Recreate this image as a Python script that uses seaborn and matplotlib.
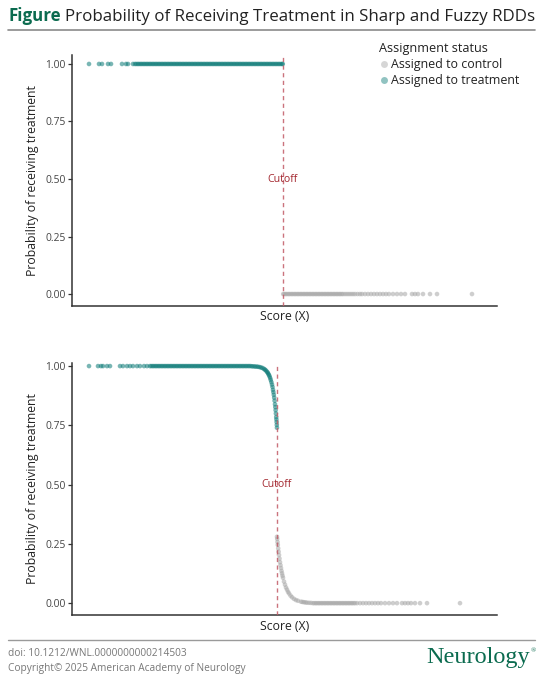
import matplotlib
matplotlib.use('Agg')
import matplotlib.pyplot as plt
import seaborn as sns
import pandas as pd
from matplotlib.lines import Line2D

# ---------------- data (score in arbitrary units, cutoff = 0) ----------------
CUTOFF = 0.0
status_labels = ['Assigned to control', 'Assigned to treatment']
y_ticks = [0.00, 0.25, 0.50, 0.75, 1.00]

# Sharp RDD: scores of treated units (probability 1) and control units (probability 0)
sharp_treated_x = [-19.4, -18.4, -18.1, -17.5, -17.2, -16.1, -15.7, -15.5, -15.0,
                   -14.8, -14.65, -14.5, -14.35, -14.2, -14.05, -13.9, -13.75, -13.6, -13.45, -13.3,
                   -13.15, -13.0, -12.85, -12.7, -12.55, -12.4, -12.25, -12.1, -11.95, -11.8, -11.65,
                   -11.5, -11.35, -11.2, -11.05, -10.9, -10.75, -10.6, -10.45, -10.3, -10.15, -10.0,
                   -9.85, -9.7, -9.55, -9.4, -9.25, -9.1, -8.95, -8.8, -8.65, -8.5, -8.35, -8.2, -8.05,
                   -7.9, -7.75, -7.6, -7.45, -7.3, -7.15, -7.0, -6.85, -6.7, -6.55, -6.4, -6.25, -6.1,
                   -5.95, -5.8, -5.65, -5.5, -5.35, -5.2, -5.05, -4.9, -4.75, -4.6, -4.45, -4.3, -4.15,
                   -4.0, -3.85, -3.7, -3.55, -3.4, -3.25, -3.1, -2.95, -2.8, -2.65, -2.5, -2.35, -2.2,
                   -2.05, -1.9, -1.75, -1.6, -1.45, -1.3, -1.15, -1.0, -0.85, -0.7, -0.55, -0.4, -0.25,
                   -0.1, -0.02]
sharp_control_x = [0.02, 0.15, 0.3, 0.45, 0.6, 0.75, 0.9, 1.05, 1.2, 1.35, 1.5, 1.65, 1.8, 1.95, 2.1,
                   2.25, 2.4, 2.55, 2.7, 2.85, 3.0, 3.15, 3.3, 3.45, 3.6, 3.75, 3.9, 4.05, 4.2, 4.35,
                   4.5, 4.65, 4.8, 4.95, 5.1, 5.25, 5.4, 5.55, 5.7, 5.85, 6.0, 6.2, 6.4, 6.6, 6.8, 7.0,
                   7.2, 7.45, 7.7, 7.9, 8.2, 8.5, 8.8, 9.1, 9.4, 9.7, 10.0, 10.3, 10.6, 11.0, 11.4,
                   11.8, 12.2, 12.9, 13.2, 13.5, 14.0, 14.7, 15.4, 18.9]

# Fuzzy RDD: treated side (flat part reads 1.00, then the bend down to the cutoff)
fuzzy_treated_flat_x = [-18.8, -17.9, -17.6, -17.4, -17.0, -16.7, -15.7, -15.4, -15.0, -14.7, -14.4,
                        -14.0, -13.7, -13.3, -13.0,
                        -12.7, -12.55, -12.4, -12.25, -12.1, -11.95, -11.8, -11.65, -11.5, -11.35,
                        -11.2, -11.05, -10.9, -10.75, -10.6, -10.45, -10.3, -10.15, -10.0, -9.85, -9.7,
                        -9.55, -9.4, -9.25, -9.1, -8.95, -8.8, -8.65, -8.5, -8.35, -8.2, -8.05, -7.9,
                        -7.75, -7.6, -7.45, -7.3, -7.15, -7.0, -6.85, -6.7, -6.55, -6.4, -6.25, -6.1,
                        -5.95, -5.8, -5.65, -5.5, -5.35, -5.2, -5.05, -4.9, -4.75, -4.6, -4.45, -4.3,
                        -4.15, -4.0, -3.85, -3.7, -3.55, -3.4, -3.25, -3.1, -2.95, -2.8, -2.65]
fuzzy_treated_flat_y = 1.00
fuzzy_treated_curve_x = [-2.5, -2.35, -2.2, -2.05, -1.9, -1.75, -1.6, -1.45, -1.3, -1.2, -1.1, -1.0,
                         -0.93, -0.86, -0.8, -0.74, -0.68, -0.62, -0.56, -0.5, -0.45, -0.40, -0.36,
                         -0.32, -0.28, -0.24, -0.20, -0.17, -0.14, -0.11, -0.08, -0.06, -0.04, -0.02,
                         -0.005]
fuzzy_treated_curve_y = [0.999, 0.999, 0.998, 0.998, 0.997, 0.996, 0.994, 0.992, 0.988, 0.985, 0.981,
                         0.976, 0.972, 0.967, 0.962, 0.956, 0.949, 0.941, 0.932, 0.922, 0.912, 0.900,
                         0.890, 0.879, 0.867, 0.854, 0.839, 0.827, 0.814, 0.800, 0.785, 0.775, 0.764,
                         0.752, 0.740]
# Fuzzy RDD: control side (jump to ~0.28 at the cutoff, then decay to 0.00)
fuzzy_control_curve_x = [0.00, 0.02, 0.05, 0.08, 0.12, 0.16, 0.20, 0.25, 0.30, 0.35, 0.40, 0.45, 0.50,
                         0.55, 0.60, 0.70, 0.80, 0.90, 1.00, 1.10, 1.20, 1.35, 1.50, 1.70, 1.90, 2.10,
                         2.40, 2.55, 2.70, 2.85, 3.00, 3.20, 3.40]
fuzzy_control_curve_y = [0.280, 0.271, 0.258, 0.246, 0.231, 0.217, 0.203, 0.188, 0.173, 0.160, 0.148,
                         0.136, 0.126, 0.116, 0.107, 0.091, 0.078, 0.066, 0.057, 0.048, 0.041, 0.032,
                         0.025, 0.018, 0.013, 0.010, 0.006, 0.005, 0.004, 0.003, 0.002, 0.0015, 0.001]
fuzzy_control_flat_x = [3.6, 3.75, 3.9, 4.05, 4.2, 4.35, 4.5, 4.65, 4.8, 4.95, 5.1, 5.25, 5.4, 5.55,
                        5.7, 5.85, 6.0, 6.15, 6.3, 6.45, 6.6, 6.75, 6.9, 7.05, 7.2, 7.35, 7.5, 7.65,
                        7.8, 8.0, 8.3, 8.6, 8.9, 9.2, 9.5, 9.8, 10.1, 10.4, 10.8, 11.2, 11.6, 12.0, 12.5,
                        12.8, 13.1, 13.4, 13.8, 14.3, 15.0, 18.3]
fuzzy_control_flat_y = 0.00

# ---------------- tables ----------------
sharp_df = pd.DataFrame({
    'score': sharp_treated_x + sharp_control_x,
    'prob': [1.0] * len(sharp_treated_x) + [0.0] * len(sharp_control_x),
    'status': [status_labels[1]] * len(sharp_treated_x) + [status_labels[0]] * len(sharp_control_x),
})
fuzzy_df = pd.DataFrame({
    'score': fuzzy_treated_flat_x + fuzzy_treated_curve_x + fuzzy_control_curve_x + fuzzy_control_flat_x,
    'prob': [fuzzy_treated_flat_y] * len(fuzzy_treated_flat_x) + fuzzy_treated_curve_y
            + fuzzy_control_curve_y + [fuzzy_control_flat_y] * len(fuzzy_control_flat_x),
    'status': [status_labels[1]] * (len(fuzzy_treated_flat_x) + len(fuzzy_treated_curve_x))
              + [status_labels[0]] * (len(fuzzy_control_curve_x) + len(fuzzy_control_flat_x)),
})

# ---------------- style ----------------
sns.set_theme(style='white')
plt.rcParams['font.family'] = ['Open Sans', 'DejaVu Sans']

TEAL = '#0c7a77'
GREY = '#a6a6a6'
palette = {status_labels[0]: GREY, status_labels[1]: TEAL}
W, H = 544, 680

fig = plt.figure(figsize=(W / 100, H / 100), dpi=100)


def fx(px):
    return px / W


def fy(py):
    return 1 - py / H


def panel(rect, df, xlim, ylim):
    l, t, r, b = rect
    ax = fig.add_axes([fx(l), fy(b), fx(r) - fx(l), fy(t) - fy(b)])
    sns.scatterplot(data=df, x='score', y='prob', hue='status', hue_order=status_labels,
                    palette=palette, s=11, alpha=0.55, edgecolor='none', linewidth=0,
                    ax=ax, legend=False, zorder=2)
    ax.axvline(CUTOFF, color='#c25a66', lw=1.0, ls=(0, (3, 2.5)), alpha=0.85, zorder=3)
    ax.text(CUTOFF, 0.5, 'Cutoff', color='#a3262e', ha='center', va='center', fontsize=7.6, zorder=4)
    ax.set_xlim(xlim)
    ax.set_ylim(ylim)
    ax.set_yticks(y_ticks)
    ax.set_yticklabels([f'{v:.2f}' for v in y_ticks])
    ax.set_xticks([])
    ax.tick_params(axis='y', length=3, width=0.9, color='#333333', labelsize=7.4,
                   labelcolor='#444444', pad=1.5, left=True)
    for s in ['top', 'right']:
        ax.spines[s].set_visible(False)
    for s in ['left', 'bottom']:
        ax.spines[s].set_color('#333333')
        ax.spines[s].set_linewidth(1.1)
    ax.grid(False)
    ax.set_xlabel('Score (X)', fontsize=8.8, color='#222222')
    ax.set_ylabel('Probability of receiving treatment', fontsize=8.8, color='#222222')
    hpx = b - t
    wpx = r - l
    ax.xaxis.set_label_coords(0.5, -11 / hpx)
    ax.xaxis.label.set_va('center')
    ax.yaxis.set_label_coords((33 - l) / wpx, 0.5)
    ax.yaxis.label.set_va('center')
    return ax


ax1 = panel((72, 55, 497, 306), sharp_df, (-21.1, 21.4), (-0.052, 1.039))
ax2 = panel((72, 363, 497, 615), fuzzy_df, (-20.5, 22.0), (-0.050, 1.013))

# legend
handles = [Line2D([0], [0], marker='o', ls='none', markersize=5, markerfacecolor=palette[k],
                  markeredgecolor='none', alpha=0.45) for k in status_labels]
leg = fig.legend(handles, status_labels, title='Assignment status', loc='upper left',
                 bbox_to_anchor=(fx(379), fy(42)), frameon=False, fontsize=8.9, title_fontsize=9.1,
                 handletextpad=0.2, handlelength=0.8, labelspacing=0.25, borderaxespad=0,
                 borderpad=0)
leg._legend_box.align = 'left'
for t in leg.get_texts():
    t.set_color('#222222')
leg.get_title().set_color('#222222')

# title
t1 = fig.text(fx(8), fy(21), 'Figure', fontsize=12.2, fontweight='bold', color='#0b6b4f',
              ha='left', va='baseline')
fig.canvas.draw()
bb = t1.get_window_extent(fig.canvas.get_renderer())
fig.text((bb.x1 + 4) / W, fy(21), 'Probability of Receiving Treatment in Sharp and Fuzzy RDDs',
         fontsize=12.2, color='#222222', ha='left', va='baseline')
fig.add_artist(Line2D([fx(8), fx(535)], [fy(29.5), fy(29.5)], color='#8a8a8a', lw=1.2))

# footer
fig.add_artist(Line2D([fx(8), fx(535)], [fy(640), fy(640)], color='#9a9a9a', lw=1.0))
fig.text(fx(8), fy(654), 'doi: 10.1212/WNL.0000000000214503', fontsize=7.3, color='#777777',
         ha='left', va='center')
fig.text(fx(8), fy(668), 'Copyright\u00a9 2025 American Academy of Neurology', fontsize=7.3,
         color='#777777', ha='left', va='center')
fig.text(fx(530), fy(663), 'Neurology', fontsize=17.5, color='#0b6b4f', ha='right', va='baseline',
         family=['Liberation Serif', 'DejaVu Serif'])
fig.text(fx(531), fy(652), '\u00ae', fontsize=5, color='#0b6b4f', ha='left', va='baseline',
         family=['Liberation Serif', 'DejaVu Serif'])

fig.savefig('out.png', dpi=100, facecolor='white')
